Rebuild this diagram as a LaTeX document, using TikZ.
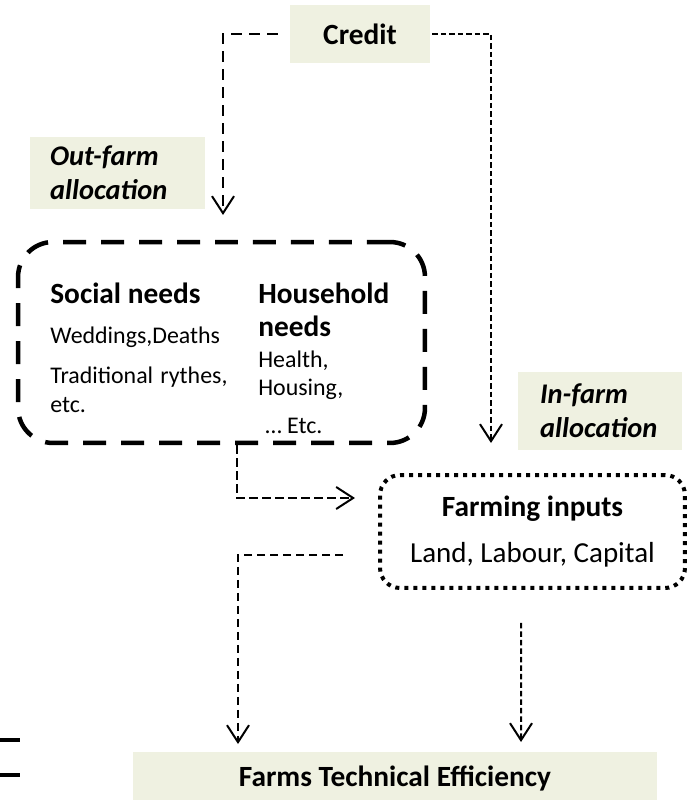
\documentclass[tikz,border=0pt]{standalone}
\usepackage{fontspec}
\setmainfont{Carlito}
\usetikzlibrary{arrows.meta}
\usetikzlibrary{positioning}
\usetikzlibrary{calc}
\definecolor{tagfill}{RGB}{239,241,225}
\tikzstyle{tag}=[fill=tagfill, inner sep=0pt, font=\fontsize{16.7}{19.4}\selectfont\bfseries]
\tikzstyle{italtag}=[tag, font=\fontsize{16.2}{19.4}\selectfont\bfseries\itshape, align=left]
\tikzstyle{needbox}=[draw, rounded corners=0.7cm, line width=0.09cm, dash pattern=on 0.46cm off 0.3cm]
\tikzstyle{inputbox}=[draw, rounded corners=0.4cm, line width=0.08cm, dash pattern=on 0.08cm off 0.1cm]
\tikzstyle{title}=[anchor=base west, inner sep=0pt, font=\fontsize{16.7}{19.4}\selectfont\bfseries]
\tikzstyle{item}=[anchor=base west, inner sep=0pt, font=\fontsize{13.6}{16}\selectfont]
\tikzstyle{arr} = [line width=0.04cm, -{Straight Barb[length=0.34cm, width=0.44cm]}]
\tikzstyle{flowline} = [arr, dash pattern=on 0.17cm off 0.09cm]
\tikzstyle{denseline} = [arr, dash pattern=on 0.11cm off 0.06cm]

\begin{document}
\begin{tikzpicture}[x=0.02cm, y=-0.02cm]

  \useasboundingbox (0,0) rectangle (690,800);

  % labels on light ground
  \node[tag, minimum width=2.8cm, minimum height=1.16cm] (credit) at (360,34) {Credit};
  \node[italtag, text width=2.7cm, minimum height=1.44cm, inner xsep=0.4cm] (outfarm) at (117.5,173) {Out-farm\\allocation};
  \node[italtag, text width=2.4cm, minimum height=1.56cm, inner xsep=0.44cm] (infarm) at (600,411) {In-farm\\allocation};
  \node[tag, minimum width=10.48cm, minimum height=1.04cm] (eff) at (395,778) {Farms Technical Efficiency};

  % needs
  \node[needbox, minimum width=8.14cm, minimum height=4.02cm] (needs) at (221.5,342.5) {};
  \foreach \x/\y/\name/\label in {50/303/social/{Social needs}, 258/303/house/{Household}, 258/336/hneeds/{needs}}
     \node[title] (\name) at (\x,\y) {\label};
  \foreach \x/\y/\name/\label in {50/343/wed/{Weddings,Deaths}, 50/383/trad/{Traditional\hspace{0.3em}rythes,}, 50/412/setc/{etc.},
                                  258/367/health/{Health,}, 258/395/housing/{Housing,}, 265/433/hetc/{\dots\ Etc.}}
     \node[item] (\name) at (\x,\y) {\label};

  % farming
  \node[inputbox, minimum width=6.1cm, minimum height=2.26cm, align=center, font=\fontsize{16.5}{26}\selectfont] (farming) at (532.5,531.5)
       {{\fontsize{16.7}{26}\selectfont\bfseries Farming inputs}\\Land, Labour, Capital};

  \coordinate (outtip) at (223,215);
  \coordinate (intip) at (491,443);
  \coordinate (fin) at (355,498);
  \coordinate (lefttip) at (238,744);
  \coordinate (righttip) at (521,742);

  \draw[arr, dash pattern=on 0.22cm off 0.14cm, shorten <=0.24cm] (credit.west) -| (outtip);
  \draw[denseline, shorten <=0.04cm] (credit.east) -| (intip);
  \draw[flowline] ([xshift=0.31cm]needs.south) |- (fin);
  \draw[flowline, shorten <=0.7cm] ([yshift=-0.47cm]farming.west) -| (lefttip);
  \draw[denseline] ([xshift=-0.23cm, yshift=-0.66cm]farming.south) -- (righttip);

  % bits at the edge
  \draw[line width=0.07cm] (0,740) -- (20,740);
  \draw[line width=0.07cm] (0,775) -- (20,775);

\end{tikzpicture}
\end{document}
